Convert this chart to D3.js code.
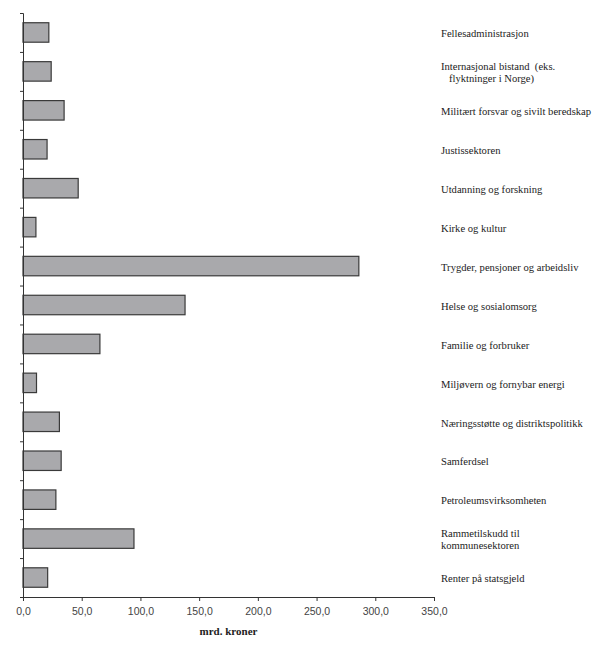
<!DOCTYPE html>
<html>
<head>
<meta charset="utf-8">
<script src="https://cdn.jsdelivr.net/npm/d3@7"></script>
<style>
  body { margin: 0; background: #fff; }
  svg { display: block; }
</style>
</head>
<body>
<div id="chart"></div>
<script>
// Kategorier (linjer i etiketten) og utgifter i mrd. kroner
const categories = [
    ["Fellesadministrasjon"],
    ["Internasjonal bistand  (eks.", "   flyktninger i Norge)"],
    ["Militært forsvar og sivilt beredskap"],
    ["Justissektoren"],
    ["Utdanning og forskning"],
    ["Kirke og kultur"],
    ["Trygder, pensjoner og arbeidsliv"],
    ["Helse og sosialomsorg"],
    ["Familie og forbruker"],
    ["Miljøvern og fornybar energi"],
    ["Næringsstøtte og distriktspolitikk"],
    ["Samferdsel"],
    ["Petroleumsvirksomheten"],
    ["Rammetilskudd til", "kommunesektoren"],
    ["Renter på statsgjeld"]
];
const values = [22, 24, 35, 20.5, 47, 11, 286, 138, 65.5, 11.5, 31, 32.5, 28, 94.5, 21];
const xTicks = [0, 50, 100, 150, 200, 250, 300, 350];
const axisTitle = "mrd. kroner";

const width = 600, height = 656;
const x0 = 23, x1 = 434, yTop = 13, yBottom = 597;

const svg = d3.select("#chart").append("svg")
    .attr("width", width)
    .attr("height", height);

const x = d3.scaleLinear().domain([0, 350]).range([x0, x1]);
const y = d3.scaleBand()
    .domain(d3.range(categories.length))
    .range([yTop, yBottom])
    .paddingInner(0.5)
    .paddingOuter(0.25);

// grenser mellom kategoriene for y-aksens tickmerker
const yEdges = d3.scaleLinear().domain([0, categories.length]).range([yTop, yBottom]);

const nb = d3.formatLocale({ decimal: ",", thousands: " ", grouping: [3], currency: ["", " kr"] });

// bars
svg.append("g")
    .selectAll("rect")
    .data(values)
    .join("rect")
    .attr("x", x(0))
    .attr("y", (d, i) => y(i))
    .attr("width", d => x(d) - x(0))
    .attr("height", y.bandwidth())
    .attr("fill", "#a9a9ac")
    .attr("stroke", "#3a3a3a")
    .attr("stroke-width", 1.2);

// x axis
const xAxis = svg.append("g")
    .attr("transform", `translate(0,${yBottom})`)
    .call(d3.axisBottom(x).tickValues(xTicks).tickFormat(nb.format(".1f")).tickSize(4));
xAxis.select(".domain").attr("stroke", "#333");
xAxis.selectAll(".tick line").attr("stroke", "#333");
xAxis.selectAll("text")
    .attr("font-family", "Liberation Sans, Arial, sans-serif")
    .attr("font-size", 10.5)
    .attr("fill", "#444")
    .attr("dy", "1.05em");

// y axis
const yAxis = svg.append("g")
    .attr("transform", `translate(${x0},0)`)
    .call(d3.axisLeft(yEdges).tickValues(d3.range(categories.length + 1)).tickFormat("").tickSize(3));
yAxis.select(".domain").attr("stroke", "#333");
yAxis.selectAll(".tick line").attr("stroke", "#333");

// axis title
svg.append("text")
    .attr("x", (x0 + x1) / 2)
    .attr("y", 635)
    .attr("text-anchor", "middle")
    .attr("font-family", "Liberation Serif, Times New Roman, serif")
    .attr("font-weight", "bold")
    .attr("font-size", 11)
    .attr("fill", "#222")
    .text(axisTitle);

// category labels to the right
const labels = svg.append("g")
    .selectAll("text")
    .data(categories)
    .join("text")
    .attr("font-family", "Liberation Serif, Times New Roman, serif")
    .attr("font-size", 10.6)
    .attr("fill", "#222")
    .attr("xml:space", "preserve")
    .attr("y", (d, i) => y(i) + y.bandwidth() / 2 + 1 - (d.length - 1) * 6);

labels.selectAll("tspan")
    .data(d => d)
    .join("tspan")
    .attr("x", 441)
    .attr("dy", (d, i) => i === 0 ? "0.35em" : "12px")
    .text(d => d);
</script>
</body>
</html>
